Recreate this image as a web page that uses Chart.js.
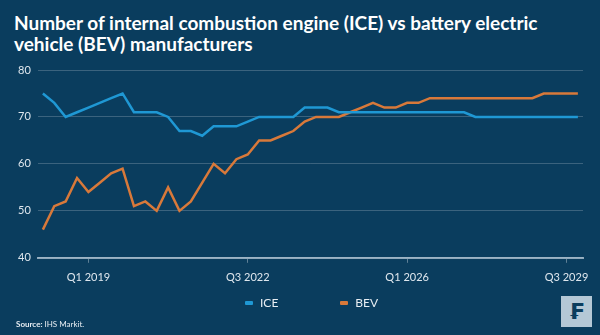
<!DOCTYPE html>
<html>
<head>
<meta charset="utf-8">
<script src="https://cdn.jsdelivr.net/npm/chart.js@4"></script>
<style>
  html, body { margin: 0; padding: 0; }
  body { width: 600px; height: 335px; background: #0a3d5e; position: relative; overflow: hidden; font-family: Lato, sans-serif; }
  #title { position: absolute; left: 14px; top: 12px; color: #fff; font-weight: bold; font-size: 19px; line-height: 21px; }
  #wrap { position: absolute; left: 0; top: 0; width: 600px; height: 335px; }
  #legend { position: absolute; top: 295px; left: 245px; color: #e8eef3; font-size: 12px; display: flex; }
  #legend span.item { display: flex; align-items: center; margin-right: 62px; }
  #legend span.box { display: inline-block; width: 8px; height: 4px; border-radius: 1px; margin-right: 7px; }
  #source { position: absolute; left: 16px; top: 319px; color: #e8eef3; font-size: 8px; }
  #logo { position: absolute; left: 561px; top: 296px; width: 31px; height: 31px; background: #b4c8d6; color: #0a3d5e; font: bold 22px "DejaVu Sans", sans-serif; text-align: center; line-height: 31px; }
</style>
</head>
<body>
<div id="title">Number of internal combustion engine (ICE) vs battery electric<br>vehicle (BEV) manufacturers</div>
<div id="wrap"><canvas id="chart-line-manufacturers"></canvas></div>
<div id="legend"></div>
<div id="source"><b>Source:</b> IHS Markit.</div>
<div id="logo">₣</div>
<script>
// quarterly, Q1 2018 .. Q4 2029
let quarters = [];
for (let y = 2018; y <= 2029; y++) {
    for (let q = 1; q <= 4; q++) quarters.push('Q' + q + ' ' + y);
}
let tickLabels = ['Q1 2019', 'Q3 2022', 'Q1 2026', 'Q3 2029'];

let ice = [75, 73, 70, 71, 72, 73, 74, 75, 71, 71, 71, 70, 67, 67, 66, 68, 68, 68, 69, 70, 70, 70, 70, 72,
           72, 72, 71, 71, 71, 71, 71, 71, 71, 71, 71, 71, 71, 71, 70, 70, 70, 70, 70, 70, 70, 70, 70, 70];
let bev = [46, 51, 52, 57, 54, 56, 58, 59, 51, 52, 50, 55, 50, 52, 56, 60, 58, 61, 62, 65, 65, 66, 67, 69,
           70, 70, 70, 71, 72, 73, 72, 72, 73, 73, 74, 74, 74, 74, 74, 74, 74, 74, 74, 74, 75, 75, 75, 75];

let yTicks = [40, 50, 60, 70, 80];

let toPoints = arr => arr.map((v, i) => ({x: i, y: v}));

let options = {
    responsive: true,
    maintainAspectRatio: false,
    animation: false,
    layout: {
        padding: {top: 70, left: 11, right: 17, bottom: 43}
    },
    plugins: {
        legend: {display: false},
        tooltip: {enabled: false}
    },
    scales: {
        x: {
            type: 'linear',
            min: -0.45,
            max: 47.45,
            afterBuildTicks: axis => {
                axis.ticks = tickLabels.map(t => ({value: quarters.indexOf(t)}));
            },
            ticks: {
                color: '#dfe7ee',
                font: {family: 'Lato', size: 11},
                padding: 8,
                maxRotation: 0,
                autoSkip: false,
                callback: v => quarters[v]
            },
            grid: {
                drawOnChartArea: false,
                drawTicks: true,
                tickLength: 5,
                color: 'rgba(255,255,255,0.35)'
            },
            border: {display: true, color: 'rgba(200,215,228,0.7)', width: 2}
        },
        y: {
            min: 40,
            max: 80,
            afterBuildTicks: axis => {
                axis.ticks = yTicks.map(v => ({value: v}));
            },
            ticks: {
                color: '#dfe7ee',
                font: {family: 'Lato', size: 11},
                padding: 7
            },
            grid: {
                drawTicks: false,
                color: 'rgba(255,255,255,0.2)'
            },
            border: {display: false}
        }
    }
};

let chart = new Chart(document.getElementById('chart-line-manufacturers').getContext('2d'), {
    type: 'line',
    data: {
        datasets: [{
            label: 'ICE',
            data: toPoints(ice),
            borderColor: '#1f98d4',
            backgroundColor: '#1f98d4',
            borderWidth: 2.5,
            pointRadius: 0,
            tension: 0
        }, {
            label: 'BEV',
            data: toPoints(bev),
            borderColor: '#d8793a',
            backgroundColor: '#d8793a',
            borderWidth: 2.5,
            pointRadius: 0,
            tension: 0
        }]
    },
    options: options,
});

// legend built from the chart's datasets
let legend = document.getElementById('legend');
chart.data.datasets.forEach(ds => {
    let item = document.createElement('span');
    item.className = 'item';
    item.innerHTML = '<span class="box" style="background:' + ds.borderColor + '"></span>' + ds.label;
    legend.appendChild(item);
});
</script>
</body>
</html>
